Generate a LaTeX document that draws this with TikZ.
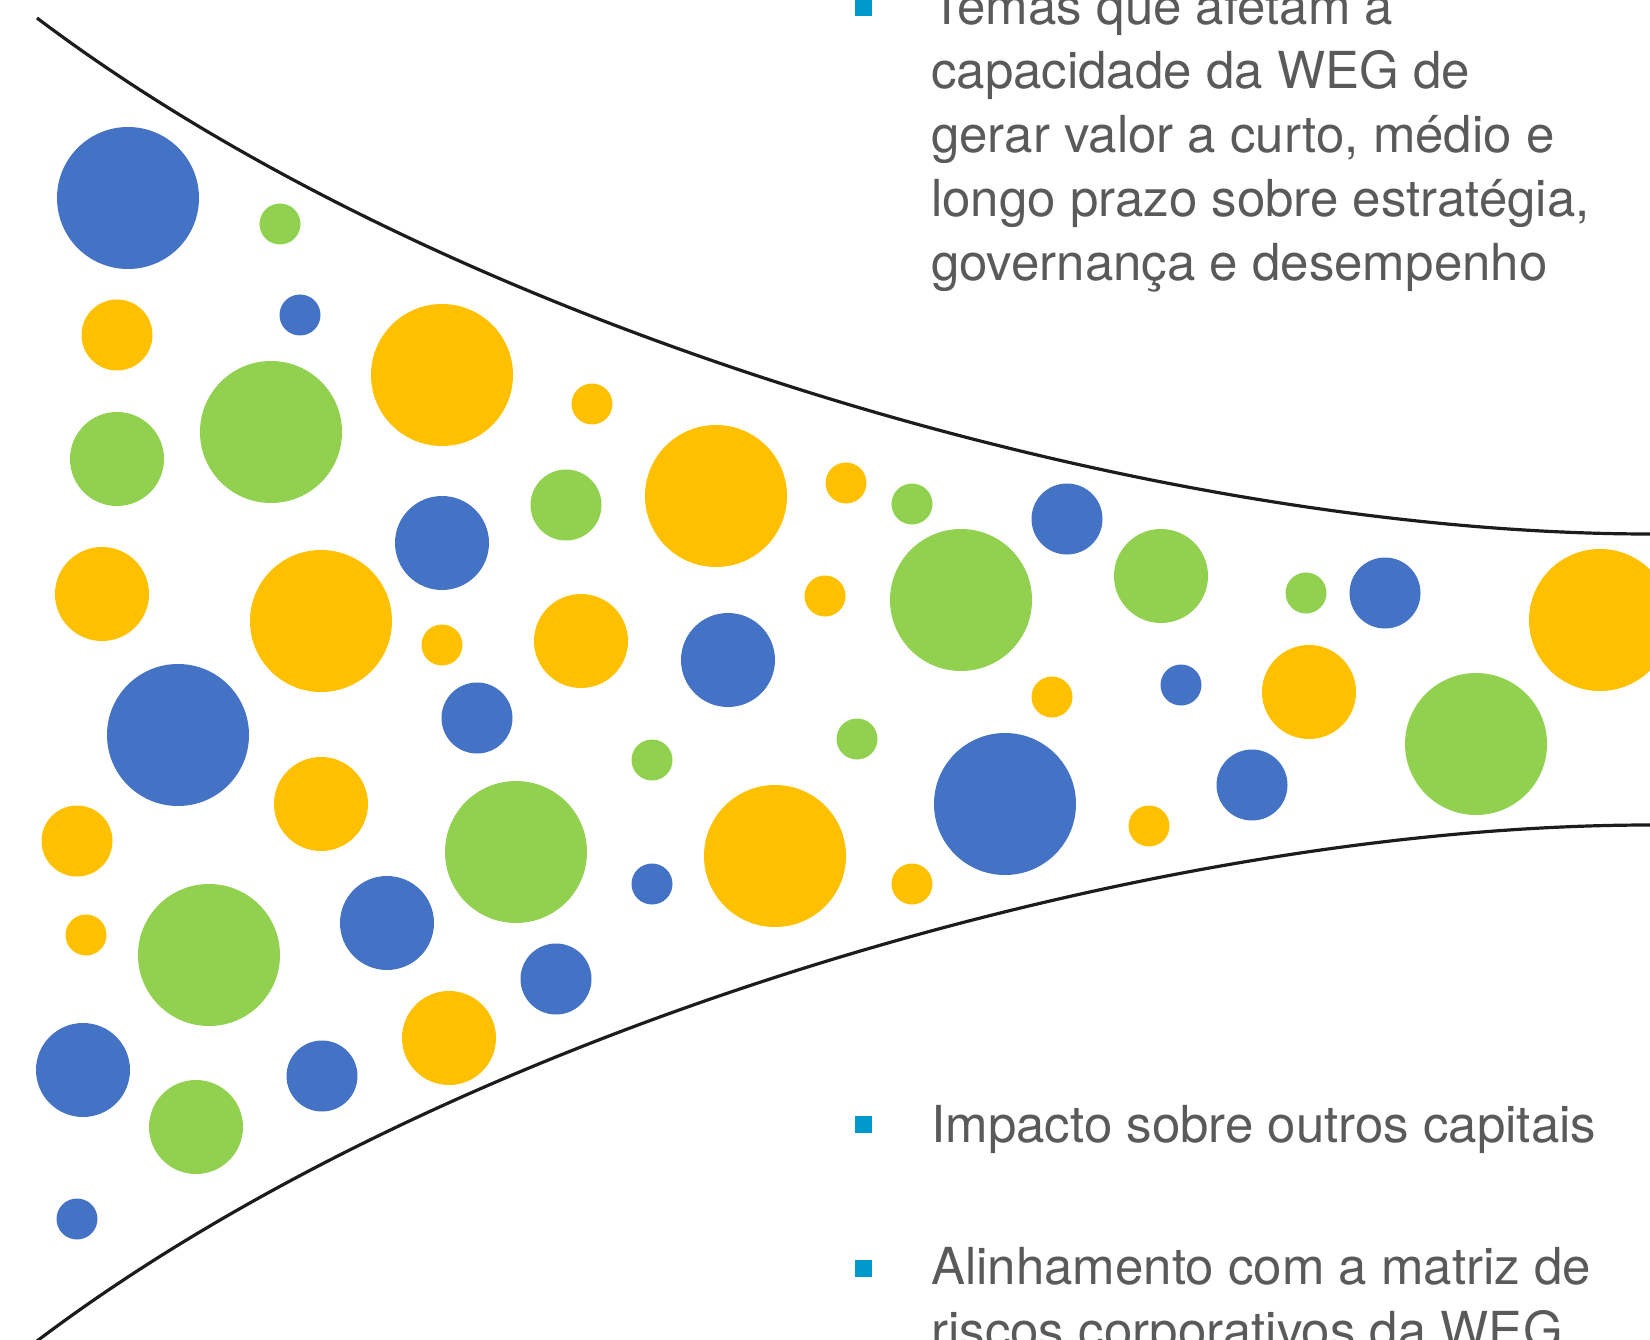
\documentclass[tikz,border=0pt]{standalone}
\usepackage{fontspec}
\newfontfamily\wegfont{TeX Gyre Heros}
\definecolor{wegblue}{HTML}{4472C4}
\definecolor{weggreen}{HTML}{92D050}
\definecolor{wegyellow}{HTML}{FFC000}
\definecolor{wegbullet}{HTML}{0099CC}
\definecolor{wegtext}{HTML}{5A5A5A}
\definecolor{wegline}{HTML}{1C1C1C}

\begin{document}
\begin{tikzpicture}[x=1pt, y=-1pt,
  funnel/.style={line width=3.2pt, wegline},
  bullet/.style={fill=wegbullet, minimum size=17pt, inner sep=0pt},
  item/.style={anchor=base west, inner sep=0pt, align=left, text=wegtext,
    font=\wegfont\fontsize{51}{64}\selectfont}]

\useasboundingbox (0,0) rectangle (1650,1340);
\clip (0,0) rectangle (1650,1340);

% ---- funnel ----------------------------------------------------------------
\draw[funnel] (37,18) .. controls (450,330) and (1150,534) .. (1650,534);
\draw[funnel] (37,1341) .. controls (450,1029) and (1150,825) .. (1650,825);

% ---- bubbles ---------------------------------------------------------------
\foreach \cx/\cy/\r in {128/198/71, 300/315/20.5, 442/543/47, 178/735/71,
    477/718/35.5, 387/923/47, 556/979/35.5, 83/1070/47, 322/1076/35.5,
    77/1219/20.5, 652/884/20.5, 1067/519/35.5, 728/660/47, 1385/593/35.5,
    1181/685/20.5, 1005/804/71, 1252/785/35.5}
  \fill[wegblue] (\cx,\cy) circle (\r pt);

\foreach \cx/\cy/\r in {280/224/20.5, 271/432/71, 117/459/47, 566/505/35.5,
    912/504/20.5, 961/600/71, 1161/576/47, 1306/593/20.5, 652/760/20.5,
    857/739/20.5, 1476/744/71, 516/852/71, 209/955/71, 196/1127/47}
  \fill[weggreen] (\cx,\cy) circle (\r pt);

\foreach \cx/\cy/\r in {117/335/35.5, 442/375/71, 592/404/20.5, 716/496/71,
    846/483/20.5, 102/594/47, 321/621/71, 442/645/20.5, 581/641/47,
    825/596/20.5, 1600/620/71, 321/804/47, 1052/697/20.5, 1309/692/47,
    77/841/35.5, 775/856/71, 1149/826/20.5, 912/884/20.5, 86/935/20.5,
    449/1038/47}
  \fill[wegyellow] (\cx,\cy) circle (\r pt);

% ---- bullet list (base anchor = last line) -----------------------------------
\node[bullet] (temasmark) at (863,8) {};
\node[item] (temas) at (931,281)
  {Temas que afetam a\\capacidade da WEG de\\gerar valor a curto, médio e\\longo prazo sobre estratégia,\\governança e desempenho};

\node[bullet] (impactomark) at (863,1124) {};
\node[item] (impacto) at (931,1142) {Impacto sobre outros capitais};

\node[bullet] (alinhamark) at (863,1268) {};
\node[item] (alinhamento) at (931,1348)
  {Alinhamento com a matriz de\\riscos corporativos da WEG};

\end{tikzpicture}
\end{document}
